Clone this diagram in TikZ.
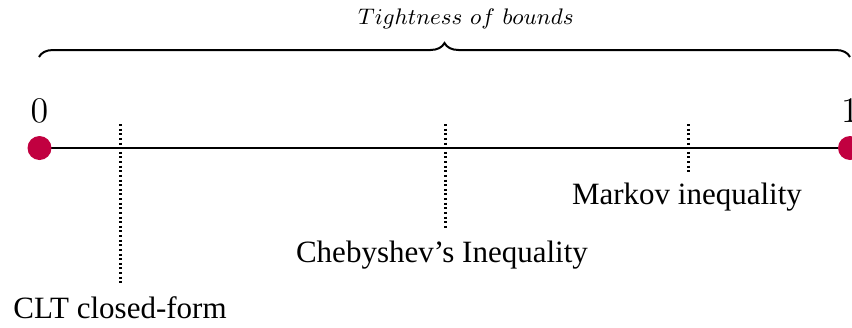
\documentclass[tikz,border=0pt]{standalone}
\usepackage{fontspec}
\newfontfamily\timesfont{Liberation Serif}
\usetikzlibrary{decorations.pathreplacing}
\definecolor{dotred}{RGB}{193,0,64}
\begin{document}
\begin{tikzpicture}[x=0.4pt,y=-0.4pt,
  axisline/.style={line width=0.95pt},
  tickline/.style={line width=1.2pt, dash pattern=on 0.8pt off 1.05pt},
  enddot/.style={circle, fill=dotred, inner sep=0pt, minimum size=9.6pt},
  endlabel/.style={font=\fontsize{15.5}{18}\selectfont, inner sep=0pt, anchor=base},
  boundlabel/.style={font=\timesfont\fontsize{12.4}{14}\selectfont, inner sep=0pt, anchor=base},
  bracestyle/.style={line width=0.8pt, decorate, decoration={brace, amplitude=5.6pt}}]
\useasboundingbox (0,0) rectangle (852,327);
% axis
\coordinate (a0) at (39.5,148);
\coordinate (a1) at (850,148);
\draw[axisline] (a0) -- (a1);
\node[enddot] (p0) at (a0) {};
\node[enddot] (p1) at (a1) {};
\node[endlabel] (l0) at (39.5,122) {$0$};
\node[endlabel] (l1) at (850,122) {$1$};
% brace
\coordinate (bl) at (39,57);
\coordinate (br) at (850,57);
\draw[bracestyle] (bl) -- (br);
\node[inner sep=0pt, anchor=base, font=\fontsize{8.9}{10}\selectfont] (title) at (466,24) {$Tightness\ of\ bounds$};
% ticks
\coordinate (c1) at (120,124);
\coordinate (c1b) at (120,283);
\coordinate (c2) at (445,124);
\coordinate (c2b) at (445,228);
\coordinate (c3) at (688,124);
\coordinate (c3b) at (688,172);
\draw[tickline] (c1) -- (c1b);
\draw[tickline] (c2) -- (c2b);
\draw[tickline] (c3) -- (c3b);
% labels
\node[boundlabel] (clt) at (120,318) {CLT closed-form};
\node[boundlabel] (cheb) at (442,262) {Chebyshev’s Inequality};
\node[boundlabel] (mark) at (687,204) {Markov inequality};
\end{tikzpicture}
\end{document}
